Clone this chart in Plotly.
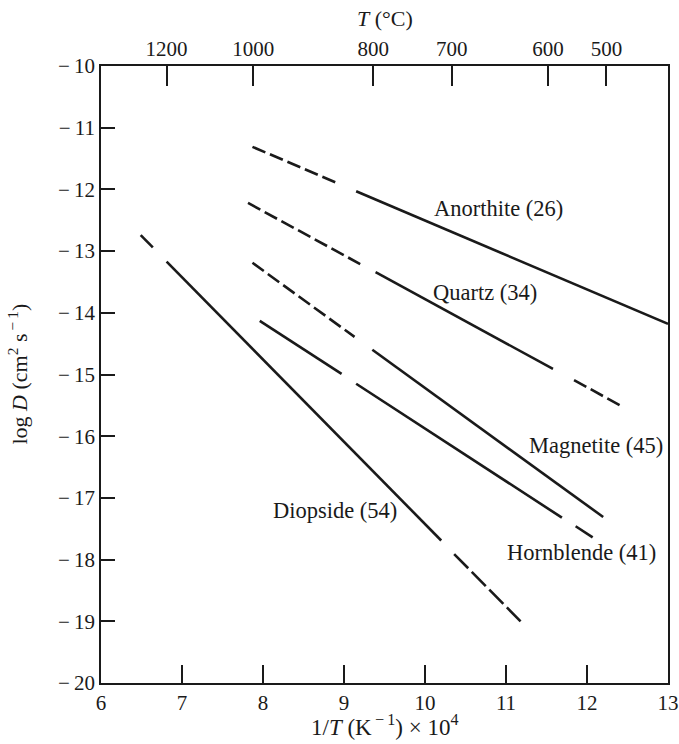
import plotly.graph_objects as go

# Arrhenius lines: log D against 1/T (x 10^4); each mineral drawn as segments
# (x0, x1), (y0, y1) with a dash style per segment.
minerals = ["Anorthite (26)", "Quartz (34)", "Magnetite (45)", "Hornblende (41)", "Diopside (54)"]

anorthite_x = [(7.87, 8.94), (9.15, 13.00)]
anorthite_y = [(-11.31, -11.91), (-12.03, -14.18)]
anorthite_style = ["dash", "solid"]

quartz_x = [(7.815, 9.20), (9.39, 11.58), (11.84, 12.42)]
quartz_y = [(-12.22, -13.21), (-13.34, -14.91), (-15.09, -15.51)]
quartz_style = ["dash", "solid", "dash"]

magnetite_x = [(7.87, 9.13), (9.35, 12.20)]
magnetite_y = [(-13.19, -14.39), (-14.60, -17.31)]
magnetite_style = ["dash", "solid"]

hornblende_x = [(7.96, 8.97), (9.15, 11.69), (11.86, 12.07)]
hornblende_y = [(-14.13, -14.99), (-15.15, -17.32), (-17.46, -17.64)]
hornblende_style = ["solid", "solid", "solid"]

diopside_x = [(6.49, 6.64), (6.81, 10.20), (10.36, 11.18)]
diopside_y = [(-12.74, -12.94), (-13.17, -17.69), (-17.91, -19.00)]
diopside_style = ["solid", "solid", "longdash"]

# label anchor (left edge, vertical centre) in data units
label_x = [10.09, 10.07, 11.26, 10.99, 8.10]
label_y = [-12.31, -13.67, -16.15, -17.88, -17.20]

# axes
x_ticks = [6, 7, 8, 9, 10, 11, 12, 13]
y_ticks = [-10, -11, -12, -13, -14, -15, -16, -17, -18, -19, -20]
top_tick_pos = [6.81, 7.88, 9.36, 10.33, 11.52, 12.24]
top_tick_text = ["1200", "1000", "800", "700", "600", "500"]

FONT = "Liberation Serif"
INK = "#1a1a1a"
DASHES = {"solid": "solid", "dash": "14px,5px", "longdash": "20px,5px"}

fig = go.Figure()

series = [
    (anorthite_x, anorthite_y, anorthite_style),
    (quartz_x, quartz_y, quartz_style),
    (magnetite_x, magnetite_y, magnetite_style),
    (hornblende_x, hornblende_y, hornblende_style),
    (diopside_x, diopside_y, diopside_style),
]

for name, (xs, ys, styles) in zip(minerals, series):
    for (x0, x1), (y0, y1), st in zip(xs, ys, styles):
        fig.add_trace(go.Scatter(
            x=[x0, x1], y=[y0, y1], mode="lines", name=name,
            line=dict(color=INK, width=2.6, dash=DASHES[st]),
            showlegend=False, hoverinfo="skip",
        ))

# invisible trace to activate the top temperature axis
fig.add_trace(go.Scatter(x=[6, 13], y=[-20, -20], xaxis="x2", mode="lines",
                         line=dict(width=0), showlegend=False, hoverinfo="skip"))

for name, lx, ly in zip(minerals, label_x, label_y):
    fig.add_annotation(x=lx, y=ly, text=name, showarrow=False, xanchor="left",
                       yanchor="middle", font=dict(family=FONT, size=22.5, color=INK))

# axis titles, placed in the margins
fig.add_annotation(x=0.5, y=0, xref="paper", yref="paper", yshift=-42,
                   text="1/<i>T</i> (K<sup>\u2009−\u20091</sup>) × 10<sup>4</sup>",
                   showarrow=False, xanchor="center", yanchor="middle",
                   font=dict(family=FONT, size=23, color=INK))
fig.add_annotation(x=0.5, y=1, xref="paper", yref="paper", yshift=48,
                   text="<i>T</i> (°C)", showarrow=False, xanchor="center", yanchor="middle",
                   font=dict(family=FONT, size=22, color=INK))
fig.add_annotation(x=0, y=0.5, xref="paper", yref="paper", xshift=-84,
                   text="log <i>D</i> (cm<sup>2</sup> s<sup>\u2009−\u20091</sup>)",
                   textangle=-90, showarrow=False, xanchor="center", yanchor="middle",
                   font=dict(family=FONT, size=22, color=INK))

fig.update_layout(
    width=679, height=744,
    margin=dict(l=101, r=11, t=66, b=61, autoexpand=False),
    paper_bgcolor="white", plot_bgcolor="white",
    font=dict(family=FONT, size=20, color=INK),
    xaxis=dict(
        range=[6, 13], tickvals=x_ticks, ticktext=[str(v) for v in x_ticks],
        ticks="inside", ticklen=18, tickwidth=1.5, tickcolor=INK, automargin=False,
        showline=True, linecolor=INK, linewidth=1.6, showgrid=False, zeroline=False,
        tickfont=dict(size=21),
    ),
    xaxis2=dict(
        range=[6, 13], overlaying="x", side="top", anchor="y", automargin=False,
        tickvals=top_tick_pos, ticktext=top_tick_text,
        ticks="inside", ticklen=20, tickwidth=1.5, tickcolor=INK,
        showline=True, linecolor=INK, linewidth=1.6, showgrid=False, zeroline=False,
        tickfont=dict(size=21),
    ),
    yaxis=dict(
        range=[-20, -10], tickvals=y_ticks, automargin=False,
        ticktext=["−\u2009" + str(-v) for v in y_ticks],
        ticks="inside", ticklen=14, tickwidth=1.5, tickcolor=INK,
        showline=True, mirror=True, linecolor=INK, linewidth=1.6,
        showgrid=False, zeroline=False,
        tickfont=dict(size=21),
    ),
)

fig.write_html("out.html")
